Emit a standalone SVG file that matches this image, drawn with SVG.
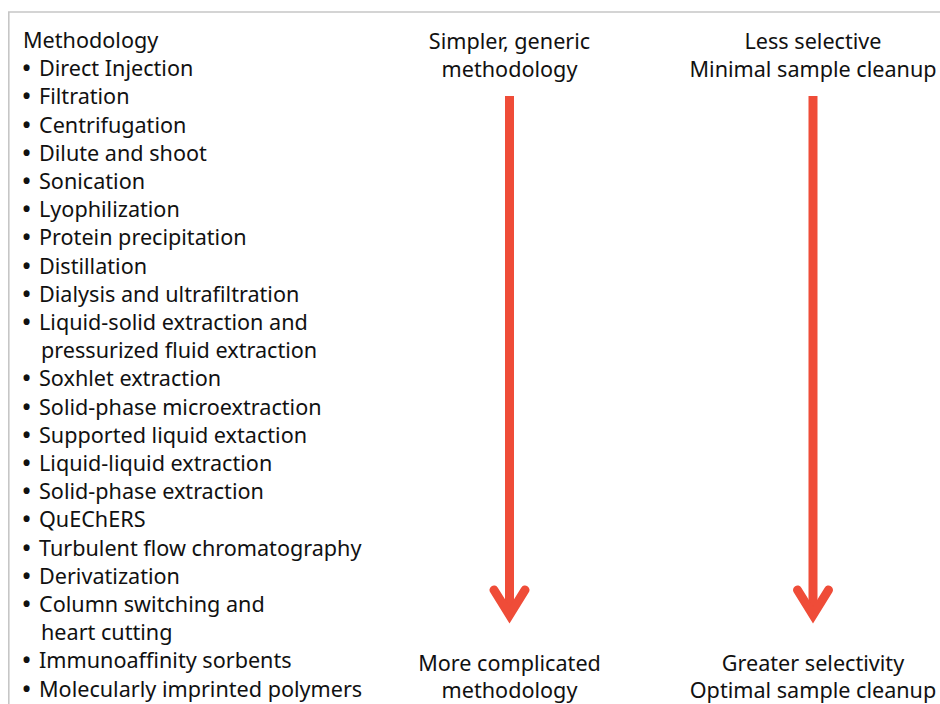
<svg xmlns="http://www.w3.org/2000/svg" width="940" height="704" viewBox="0 0 940 704">
<style>
text{font-family:"Noto Sans","Open Sans","Liberation Sans",sans-serif;font-size:21.6px;fill:#111}
.b{font-weight:bold}
.c{text-anchor:middle}
.frame{fill:none;stroke:#c6c6c6;stroke-width:1.6}
.shaft{stroke:#ef4c38;stroke-width:9;fill:none}
.head{stroke:#ef4c38;stroke-width:9;fill:none;stroke-linecap:round;stroke-linejoin:miter;stroke-miterlimit:10}
</style>
<rect width="940" height="704" fill="#fff"/>
<polyline class="frame" points="8.8,704 8.8,12 940,12"/>
<g id="list">
<text x="23" y="48">Methodology</text>
<g id="items">
<text x="22.5" y="76.2"><tspan class="b">•</tspan><tspan x="39">Direct Injection</tspan></text>
<text x="22.5" y="104.4"><tspan class="b">•</tspan><tspan x="39">Filtration</tspan></text>
<text x="22.5" y="132.6"><tspan class="b">•</tspan><tspan x="39">Centrifugation</tspan></text>
<text x="22.5" y="160.8"><tspan class="b">•</tspan><tspan x="39">Dilute and shoot</tspan></text>
<text x="22.5" y="189"><tspan class="b">•</tspan><tspan x="39">Sonication</tspan></text>
<text x="22.5" y="217.2"><tspan class="b">•</tspan><tspan x="39">Lyophilization</tspan></text>
<text x="22.5" y="245.4"><tspan class="b">•</tspan><tspan x="39">Protein precipitation</tspan></text>
<text x="22.5" y="273.6"><tspan class="b">•</tspan><tspan x="39">Distillation</tspan></text>
<text x="22.5" y="301.8"><tspan class="b">•</tspan><tspan x="39">Dialysis and ultrafiltration</tspan></text>
<text x="22.5" y="330"><tspan class="b">•</tspan><tspan x="39">Liquid-solid extraction and</tspan></text>
<text x="41" y="358.2">pressurized fluid extraction</text>
<text x="22.5" y="386.4"><tspan class="b">•</tspan><tspan x="39">Soxhlet extraction</tspan></text>
<text x="22.5" y="414.6"><tspan class="b">•</tspan><tspan x="39">Solid-phase microextraction</tspan></text>
<text x="22.5" y="442.8"><tspan class="b">•</tspan><tspan x="39">Supported liquid extaction</tspan></text>
<text x="22.5" y="471"><tspan class="b">•</tspan><tspan x="39">Liquid-liquid extraction</tspan></text>
<text x="22.5" y="499.2"><tspan class="b">•</tspan><tspan x="39">Solid-phase extraction</tspan></text>
<text x="22.5" y="527.4"><tspan class="b">•</tspan><tspan x="39">QuEChERS</tspan></text>
<text x="22.5" y="555.6"><tspan class="b">•</tspan><tspan x="39">Turbulent flow chromatography</tspan></text>
<text x="22.5" y="583.8"><tspan class="b">•</tspan><tspan x="39">Derivatization</tspan></text>
<text x="22.5" y="612"><tspan class="b">•</tspan><tspan x="39">Column switching and</tspan></text>
<text x="41" y="640.2">heart cutting</text>
<text x="22.5" y="668.4"><tspan class="b">•</tspan><tspan x="39">Immunoaffinity sorbents</tspan></text>
<text x="22.5" y="696.6"><tspan class="b">•</tspan><tspan x="39">Molecularly imprinted polymers</tspan></text>
</g>
</g>
<g id="label-simpler">
<text class="c" x="509.5" y="49">Simpler, generic</text>
<text class="c" x="509.5" y="76.5">methodology</text>
</g>
<g id="label-less">
<text class="c" x="813" y="49">Less selective</text>
<text class="c" x="813" y="76.5">Minimal sample cleanup</text>
</g>
<g id="label-complicated">
<text class="c" x="509.5" y="671">More complicated</text>
<text class="c" x="509.5" y="698">methodology</text>
</g>
<g id="label-greater">
<text class="c" x="813" y="671">Greater selectivity</text>
<text class="c" x="813" y="698">Optimal sample cleanup</text>
</g>
<g id="connectors">
<line class="shaft" x1="509.5" y1="96" x2="509.5" y2="612"/>
<polyline class="head" points="494,590 509.5,615 525,590"/>
<line class="shaft" x1="813" y1="96" x2="813" y2="612"/>
<polyline class="head" points="797.5,590 813,615 828.5,590"/>
</g>
</svg>
